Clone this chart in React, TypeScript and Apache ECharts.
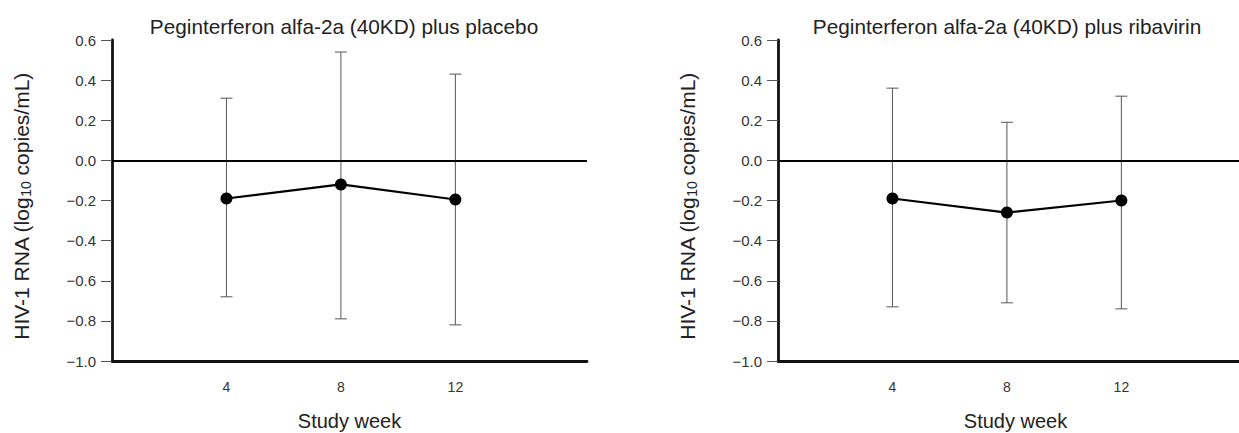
import React, { useEffect, useRef } from "react";
import * as echarts from "echarts";

const weeks = [4, 8, 12];
const placeboMean = [-0.19, -0.12, -0.195];
const placeboUpper = [0.31, 0.54, 0.43];
const placeboLower = [-0.68, -0.79, -0.82];
const ribaMean = [-0.19, -0.26, -0.2];
const ribaUpper = [0.36, 0.19, 0.32];
const ribaLower = [-0.73, -0.71, -0.74];
const titles = [
  "Peginterferon alfa-2a (40KD) plus placebo",
  "Peginterferon alfa-2a (40KD) plus ribavirin",
];
const xAxisName = "Study week";
const yMin = -1.0;
const yMax = 0.6;
const yStep = 0.2;
const xMin = 0;
const xMax = 16.6;

const FONT = "Liberation Sans, Arial, Helvetica, sans-serif";

function fmtY(v: number) {
  if (Math.abs(v) < 1e-9) return "0.0";
  return (v < 0 ? "\u2212" : "") + Math.abs(v).toFixed(1);
}

function errorRender(params: any, api: any) {
  const x = api.value(0);
  const lo = api.coord([x, api.value(1)]);
  const hi = api.coord([x, api.value(2)]);
  const hw = 6;
  const style = { stroke: "#555", lineWidth: 1 };
  return {
    type: "group",
    children: [
      { type: "line", shape: { x1: lo[0], y1: lo[1], x2: hi[0], y2: hi[1] }, style },
      { type: "line", shape: { x1: lo[0] - hw, y1: lo[1], x2: lo[0] + hw, y2: lo[1] }, style },
      { type: "line", shape: { x1: hi[0] - hw, y1: hi[1], x2: hi[0] + hw, y2: hi[1] }, style },
    ],
  };
}

export default function App() {
  const ref = useRef<HTMLDivElement>(null);
  useEffect(() => {
    if (!ref.current) return;
    const chart = echarts.init(ref.current, null, { renderer: "svg" });
    const grids = [
      { left: 112, top: 40, width: 475, height: 321, outerBoundsMode: "none", containLabel: false },
      { left: 778, top: 40, width: 475, height: 321, outerBoundsMode: "none", containLabel: false },
    ];
    const xAxes = grids.map((_, i) => ({
      type: "value",
      gridIndex: i,
      min: xMin,
      max: xMax,
      name: xAxisName,
      nameLocation: "middle",
      nameGap: 50,
      nameTextStyle: { fontFamily: FONT, fontSize: 20, color: "#222" },
      axisLine: { show: true, onZero: false, lineStyle: { color: "#111", width: 2.8 } },
      axisTick: { show: false },
      splitLine: { show: false },
      axisLabel: {
        customValues: weeks,
        fontFamily: FONT,
        fontSize: 14,
        color: "#333",
        margin: 19,
        formatter: (v: number) => String(v),
      },
    }));
    const yAxes = grids.map((_, i) => ({
      type: "value",
      gridIndex: i,
      min: yMin,
      max: yMax,
      interval: yStep,
      name: "{a|HIV-1 RNA (log}{s|10}{a| copies/mL)}",
      nameLocation: "middle",
      nameGap: 79,
      nameTextStyle: {
        fontFamily: FONT,
        color: "#222",
        padding: [0, 12, 0, 0],
        rich: {
          a: { fontFamily: FONT, fontSize: 21, color: "#222", lineHeight: 24 },
          s: { fontFamily: FONT, fontSize: 14, color: "#222", lineHeight: 24, verticalAlign: "bottom", padding: [10, 0, 0, 0] },
        },
      },
      axisLine: { show: true, lineStyle: { color: "#111", width: 2.8 } },
      axisTick: { show: true, length: 11, lineStyle: { color: "#555", width: 1 } },
      splitLine: { show: false },
      axisLabel: {
        fontFamily: FONT,
        fontSize: 15,
        color: "#333",
        margin: 16,
        formatter: fmtY,
      },
    }));
    const panels = [
      { mean: placeboMean, up: placeboUpper, lo: placeboLower },
      { mean: ribaMean, up: ribaUpper, lo: ribaLower },
    ];
    const series: any[] = [];
    panels.forEach((p, i) => {
      series.push({
        type: "custom",
        xAxisIndex: i,
        yAxisIndex: i,
        renderItem: errorRender,
        data: weeks.map((w, k) => [w, p.lo[k], p.up[k]]),
        z: 2,
      });
      series.push({
        type: "line",
        xAxisIndex: i,
        yAxisIndex: i,
        data: weeks.map((w, k) => [w, p.mean[k]]),
        symbol: "circle",
        symbolSize: 12,
        itemStyle: { color: "#000" },
        lineStyle: { color: "#000", width: 2.2 },
        z: 4,
        markLine: {
          silent: true,
          symbol: ["none", "none"],
          label: { show: false },
          lineStyle: { color: "#000", width: 2.2, type: "solid" },
          data: [{ yAxis: 0 }],
        },
      });
    });
    chart.setOption({
      animation: false,
      backgroundColor: "#fff",
      title: [
        {
          text: titles[0],
          left: 344,
          top: 16,
          padding: 0,
          textAlign: "center",
          textStyle: { fontFamily: FONT, fontSize: 20.8, fontWeight: "normal", color: "#222" },
        },
        {
          text: titles[1],
          left: 1007,
          top: 16,
          padding: 0,
          textAlign: "center",
          textStyle: { fontFamily: FONT, fontSize: 20.8, fontWeight: "normal", color: "#222" },
        },
      ],
      grid: grids,
      xAxis: xAxes,
      yAxis: yAxes,
      series,
    });
    return () => chart.dispose();
  }, []);
  return (
    <div
      ref={ref}
      style={{ position: "fixed", left: 0, top: 0, width: 1239, height: 433, background: "#fff" }}
    />
  );
}
